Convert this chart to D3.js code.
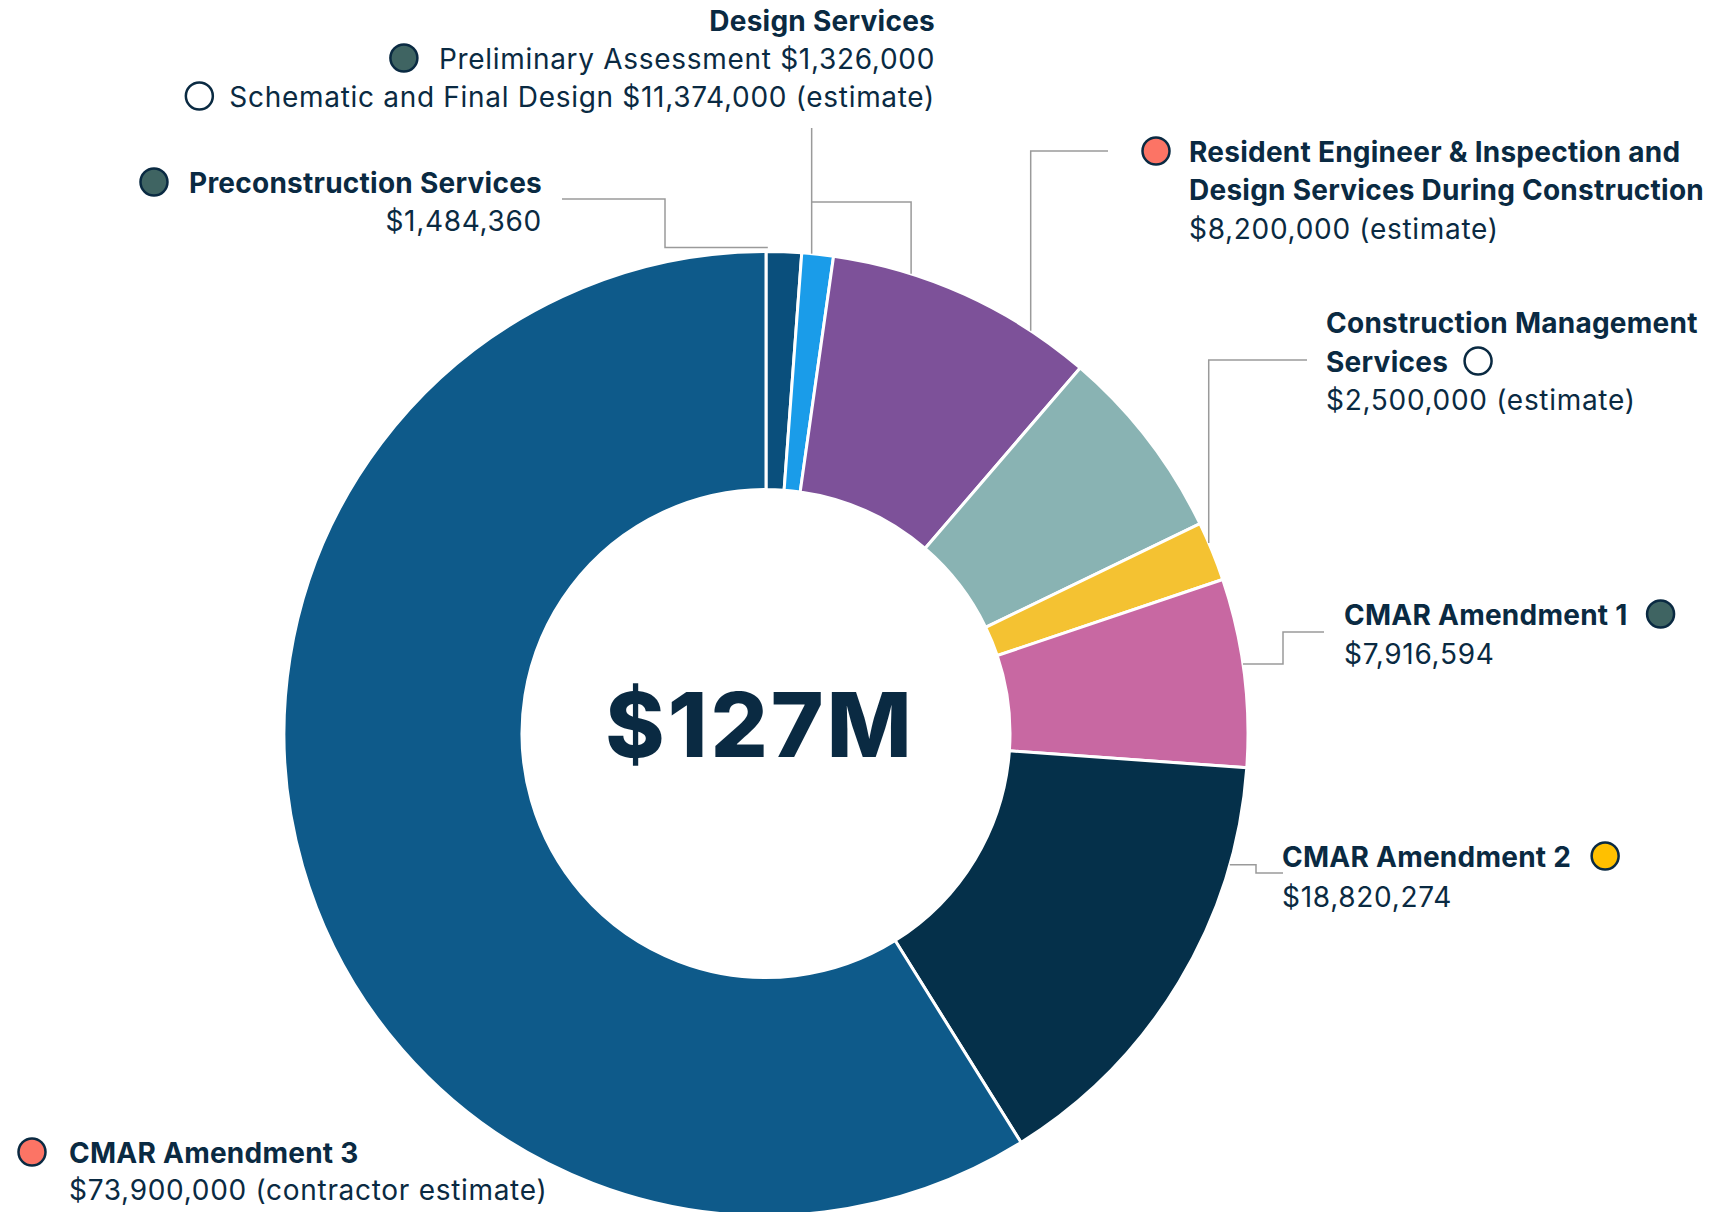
<!DOCTYPE html>
<html>
<head>
<meta charset="utf-8">
<script src="https://cdn.jsdelivr.net/npm/d3@7"></script>
<style>
  html, body { margin: 0; padding: 0; background: #ffffff; }
  svg { display: block; }
  text { font-family: Inter, "Noto Sans", Roboto, sans-serif; fill: #0a2a42; }
</style>
</head>
<body>
<svg id="chart" width="1731" height="1212"></svg>
<script>
// ---------------- DATA ----------------
const categories = [
  "Preconstruction Services",
  "Preliminary Assessment",
  "Schematic and Final Design",
  "Resident Engineer & Inspection and Design Services During Construction",
  "Construction Management Services",
  "CMAR Amendment 1",
  "CMAR Amendment 2",
  "CMAR Amendment 3"
];
const values = [1484360, 1326000, 11374000, 8200000, 2500000, 7916594, 18820274, 73900000];
const valueNotes = ["", "", " (estimate)", " (estimate)", " (estimate)", "", "", " (contractor estimate)"];
const sliceColors = ["#0a4f7c", "#1a9ce9", "#7d5199", "#89b3b3", "#f4c232", "#c868a2", "#05304a", "#0e5a8a"];
const markerColors = ["#3f6462", "#3f6462", "#ffffff", "#fc7465", "#ffffff", "#3f6462", "#ffc000", "#fc7465"];
const totalLabel = "$127M";
const groupTitle = "Design Services";

// ---------------- LAYOUT ----------------
const W = 1731, H = 1212;
const cx = 766, cy = 733.5, R = 482, r = 244;
const TEXT = "#0a2a42", LEADER = "#9a9a9a";
const FS = 28, FSB = 28, LS = 0.7, LSB = 0.25, DY = 1.5;

const svg = d3.select("#chart");
const fmt = d3.format("$,");
const valueText = values.map((v, i) => fmt(v) + valueNotes[i]);

const pie = d3.pie().sort(null).value(d => d)(values);
const arc = d3.arc().innerRadius(r).outerRadius(R);

const g = svg.append("g").attr("transform", `translate(${cx},${cy})`);
g.selectAll("path.slice").data(pie).join("path")
  .attr("class", "slice")
  .attr("d", arc)
  .attr("fill", (d, i) => sliceColors[i])
  .attr("stroke", "#ffffff")
  .attr("stroke-width", 3)
  .attr("stroke-linejoin", "miter");

g.append("text")
  .attr("x", -6).attr("y", 23)
  .attr("text-anchor", "middle")
  .style("font-size", "90px").style("font-weight", 800)
  .style("letter-spacing", "3px")
  .text(totalLabel);

// point on ring for slice i at fraction f of its angular span
function ringPoint(i, f, extra = 0) {
  const a = pie[i].startAngle + f * (pie[i].endAngle - pie[i].startAngle);
  return { x: cx + (R + extra) * Math.sin(a), y: cy - (R + extra) * Math.cos(a) };
}

// ---------------- LEADERS ----------------
const pPre = ringPoint(0, 0.05, 4);
const pPrelim = ringPoint(1, 0.31);
const pSchem = ringPoint(2, 0.29);
const pRes = ringPoint(2, 0.774);
const pCM = ringPoint(4, 0.35);
const pC1 = ringPoint(5, 0.455);
const pC2 = ringPoint(6, 0.217);
const leaders = [
  [[562, 199], [665, 199], [665, pPre.y], [pPre.x, pPre.y]],
  [[pPrelim.x, 128], [pPrelim.x, pPrelim.y]],
  [[pPrelim.x, 202], [pSchem.x, 202], [pSchem.x, pSchem.y]],
  [[1108, 151], [pRes.x, 151], [pRes.x, pRes.y]],
  [[1307, 360], [pCM.x, 360], [pCM.x, pCM.y]],
  [[1324, 632], [1283, 632], [1283, pC1.y], [pC1.x, pC1.y]],
  [[1283, 873], [1256, 873], [1256, pC2.y], [pC2.x, pC2.y]]
];
svg.selectAll("path.leader").data(leaders).join("path")
  .attr("class", "leader")
  .attr("d", d => d3.line()(d))
  .attr("fill", "none")
  .attr("stroke", LEADER)
  .attr("stroke-width", 1.5);

// ---------------- LABELS ----------------
const blocks = [
  { lines: [
      { t: groupTitle, b: true, a: "end", x: 935, y: 29 },
      { t: categories[1] + " " + valueText[1], b: false, a: "end", x: 935, y: 67 },
      { t: categories[2] + " " + valueText[2], b: false, a: "end", x: 935, y: 105 }
    ],
    markers: [{ cat: 1, line: 1, side: "before", gap: 35 }, { cat: 2, line: 2, side: "before", gap: 30 }] },
  { lines: [
      { t: categories[0], b: true, a: "end", x: 542, y: 191 },
      { t: valueText[0], b: false, a: "end", x: 542, y: 229 }
    ],
    markers: [{ cat: 0, line: 0, side: "before", gap: 35 }] },
  { lines: [
      { t: "Resident Engineer & Inspection and", b: true, a: "start", x: 1189, y: 160 },
      { t: "Design Services During Construction", b: true, a: "start", x: 1189, y: 198 },
      { t: valueText[3], b: false, a: "start", x: 1189, y: 237 }
    ],
    markers: [{ cat: 3, line: 0, side: "before", gap: 33 }] },
  { lines: [
      { t: "Construction Management", b: true, a: "start", x: 1326, y: 331 },
      { t: "Services", b: true, a: "start", x: 1326, y: 370 },
      { t: valueText[4], b: false, a: "start", x: 1326, y: 408 }
    ],
    markers: [{ cat: 4, line: 1, side: "after", gap: 30 }] },
  { lines: [
      { t: categories[5], b: true, a: "start", x: 1344, y: 623 },
      { t: valueText[5], b: false, a: "start", x: 1344, y: 662 }
    ],
    markers: [{ cat: 5, line: 0, side: "after", gap: 33 }] },
  { lines: [
      { t: categories[6], b: true, a: "start", x: 1282, y: 865 },
      { t: valueText[6], b: false, a: "start", x: 1282, y: 905 }
    ],
    markers: [{ cat: 6, line: 0, side: "after", gap: 34 }] },
  { lines: [
      { t: categories[7], b: true, a: "start", x: 69, y: 1161 },
      { t: valueText[7], b: false, a: "start", x: 69, y: 1198 }
    ],
    markers: [{ cat: 7, line: 0, side: "before", gap: 37 }] }
];

const labelLayer = svg.append("g");
blocks.forEach(bk => {
  const nodes = bk.lines.map(l => labelLayer.append("text")
    .attr("x", l.x).attr("y", l.y + DY)
    .attr("text-anchor", l.a)
    .style("font-size", (l.b ? FSB : FS) + "px")
    .style("font-weight", l.b ? 700 : 400)
    .style("letter-spacing", (l.b ? LSB : LS) + "px")
    .text(l.t));
  bk.markers.forEach(m => {
    const bb = nodes[m.line].node().getBBox();
    const y = bk.lines[m.line].y + DY - 10.5;
    const x = m.side === "before" ? bb.x - m.gap : bb.x + bb.width + m.gap;
    labelLayer.append("circle")
      .attr("cx", x).attr("cy", y).attr("r", 13.5)
      .attr("fill", markerColors[m.cat])
      .attr("stroke", TEXT).attr("stroke-width", 2.5);
  });
});
</script>
</body>
</html>
